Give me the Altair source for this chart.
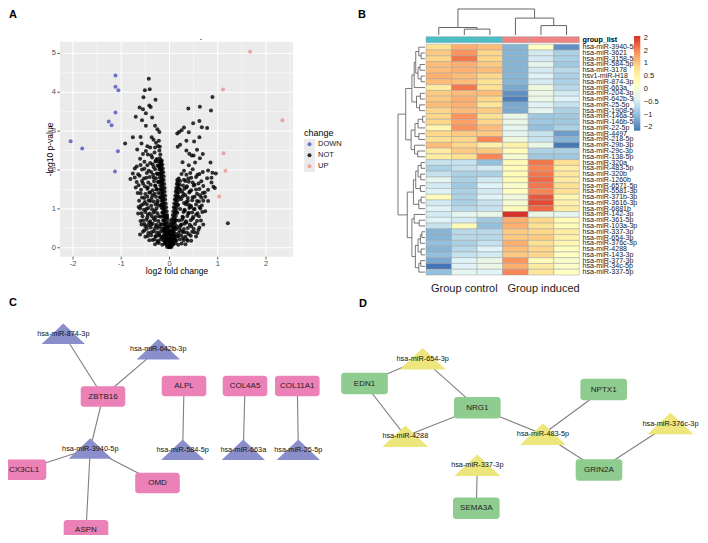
import altair as alt
import pandas as pd

FONT = "Liberation Sans"
M = 8  # page margin added by the browser; chart px = page px - M

# ---------------- Panel A : volcano ----------------
change_cats = ["DOWN", "NOT", "UP"]
change_colors = ["#6E73C9", "#000000", "#F2736E"]
down_lfc = [-2.05, -1.81, -1.12, -1.12, -1.06, -1.12, -1.26, -1.20, -1.07, -1.13]
down_p = [2.74, 2.55, 4.43, 4.14, 4.05, 3.48, 3.25, 3.15, 2.48, 1.96]
up_lfc = [1.11, 1.67, 2.34, 1.12, 1.16, 1.03]
up_p = [4.07, 5.04, 3.28, 2.43, 1.98, 1.32]
not_points = [
    (-0.43, 4.35), (-0.51, 4.05), (-0.41, 4.08), (-0.54, 3.87), (-0.29, 3.81), (-0.62, 3.61), (-0.42, 3.66),
    (-0.39, 3.62), (-0.55, 3.56), (-0.70, 3.37), (-0.49, 3.46), (-0.36, 3.35), (-0.57, 3.28), (-0.49, 3.14),
    (-0.30, 3.14), (-0.25, 3.05), (-0.21, 2.98), (-0.76, 2.84), (-0.92, 2.68), (-0.60, 2.85), (-0.37, 2.84),
    (-0.33, 2.78), (-0.58, 2.68), (-0.67, 2.53), (-0.49, 2.49), (-0.40, 2.58), (-0.28, 2.70), (-0.24, 2.62),
    (-0.45, 2.40), (-0.31, 2.45),
    (-0.72, 2.04), (-0.76, 1.91), (-0.60, 2.13), (-0.52, 2.03), (-0.81, 1.77), (-0.62, 1.85), (-0.48, 1.80),
    (-0.55, 1.65), (-0.70, 1.55), (-0.45, 1.55), (-0.38, 1.95), (-0.35, 2.15), (-0.28, 2.25), (-0.42, 1.42),
    (-0.60, 1.40), (-0.52, 1.28), (-0.64, 1.05), (-0.65, 0.88), (-0.55, 1.12), (-0.48, 1.00), (-0.40, 1.20),
    (-0.35, 1.35), (-0.30, 1.60), (-0.33, 1.80), (-0.25, 1.90), (-0.27, 1.50), (-0.22, 1.70), (-0.20, 2.05),
    (-0.18, 2.20), (-0.45, 0.85), (-0.55, 0.70), (-0.61, 0.34), (-0.50, 0.55), (-0.42, 0.65), (-0.38, 0.40),
    (-0.30, 0.95), (-0.25, 1.15), (-0.33, 0.75), (-0.28, 0.55), (-0.22, 0.35), (-0.18, 0.80), (-0.20, 1.30),
    (-0.17, 1.05), (-0.15, 0.60), (-0.35, 0.20), (-0.25, 0.15), (-0.15, 0.25), (-0.45, 0.30), (-0.12, 0.45),
    (-0.28, 0.30), (-0.20, 0.55), (-0.38, 0.60), (-0.58, 0.60), (-0.52, 0.45),
    (-0.02, 0.05), (-0.04, 0.10), (-0.01, 0.15), (-0.05, 0.20), (-0.03, 0.25), (-0.06, 0.30), (-0.04, 0.35),
    (-0.07, 0.40), (-0.05, 0.45), (-0.08, 0.50), (-0.06, 0.55), (-0.09, 0.60), (-0.07, 0.65), (-0.10, 0.70),
    (-0.08, 0.75), (-0.11, 0.80), (-0.09, 0.85), (-0.12, 0.90), (-0.10, 0.95), (-0.12, 1.00), (-0.11, 1.05),
    (-0.13, 1.10), (-0.12, 1.15), (-0.14, 1.20), (-0.13, 1.25), (-0.14, 1.30), (-0.13, 1.35), (-0.15, 1.40),
    (-0.14, 1.45), (-0.15, 1.50), (-0.14, 1.55), (-0.16, 1.60), (-0.15, 1.65), (-0.16, 1.70), (-0.15, 1.75),
    (-0.17, 1.80), (-0.16, 1.85), (-0.17, 1.90), (-0.16, 1.95), (-0.17, 2.00), (-0.18, 2.05), (-0.17, 2.10),
    (-0.18, 2.15), (-0.19, 2.20), (-0.18, 2.25), (-0.20, 2.30), (-0.19, 2.40), (-0.21, 2.50), (-0.20, 2.60),
    (-0.22, 2.75), (-0.07, 0.20), (-0.09, 0.35), (-0.11, 0.50), (-0.13, 0.70), (-0.15, 0.90), (-0.17, 1.10),
    (-0.18, 1.30), (-0.19, 1.50), (-0.20, 1.70), (-0.21, 1.90), (-0.22, 2.10),
    (0.02, 0.05), (0.03, 0.12), (0.05, 0.20), (0.04, 0.28), (0.06, 0.35), (0.07, 0.42), (0.08, 0.50),
    (0.07, 0.58), (0.09, 0.65), (0.10, 0.72), (0.09, 0.80), (0.11, 0.88), (0.12, 0.95), (0.11, 1.02),
    (0.13, 1.10), (0.14, 1.18), (0.13, 1.25), (0.15, 1.32), (0.16, 1.40), (0.15, 1.48), (0.17, 1.55),
    (0.18, 1.62), (0.17, 1.70), (0.19, 1.78), (0.10, 0.30), (0.12, 0.50), (0.14, 0.70), (0.16, 0.90),
    (0.18, 1.10), (0.20, 1.30), (0.22, 1.50),
    (0.00, 0.02), (-0.01, 0.08), (0.01, 0.10), (0.00, 0.18), (-0.02, 0.22), (0.02, 0.30), (0.00, 0.40),
    (-0.03, 0.50), (0.03, 0.60), (0.00, 0.03), (0.01, 0.05), (-0.03, 0.12),
    (0.39, 3.58), (0.63, 3.63), (0.89, 3.88), (0.86, 3.53), (0.62, 3.26), (0.49, 3.20), (0.67, 3.10),
    (0.78, 3.08), (0.30, 3.09), (0.25, 3.02), (0.16, 2.94), (0.20, 2.98), (0.40, 2.97), (0.62, 2.84),
    (0.51, 2.73), (0.35, 2.75), (0.17, 2.60), (0.22, 2.65), (0.46, 2.37), (0.50, 2.37), (0.69, 2.41),
    (0.35, 2.50), (0.57, 2.52), (0.27, 2.20), (0.63, 2.30), (0.85, 2.19), (0.69, 1.95), (0.89, 1.93),
    (0.96, 1.91), (0.62, 1.90), (0.35, 1.88), (0.87, 1.68), (0.91, 1.57), (0.94, 1.54), (0.60, 1.65),
    (0.73, 1.42), (0.63, 1.35), (0.80, 1.20), (0.57, 1.20), (0.74, 0.94), (1.21, 0.63), (0.60, 0.46),
    (0.87, 1.80), (0.74, 1.31),
    (0.25, 1.90), (0.30, 1.75), (0.28, 1.60), (0.35, 1.55), (0.40, 1.70), (0.45, 1.80), (0.50, 1.60),
    (0.42, 1.45), (0.33, 1.35), (0.26, 1.45), (0.24, 1.25), (0.30, 1.15), (0.38, 1.20), (0.45, 1.05),
    (0.52, 1.00), (0.55, 0.85), (0.48, 0.75), (0.40, 0.90), (0.32, 0.95), (0.27, 0.80), (0.22, 1.00),
    (0.20, 0.70), (0.25, 0.60), (0.35, 0.65), (0.45, 0.55), (0.52, 0.40), (0.40, 0.35), (0.30, 0.40),
    (0.22, 0.45), (0.18, 0.30), (0.15, 0.55), (0.28, 0.25), (0.38, 0.18), (0.12, 0.20), (0.65, 0.70),
    (0.70, 0.60), (0.62, 1.05), (0.48, 1.30), (0.55, 1.50), (0.40, 1.10),
]
not_points_arms = [
    (-0.06, 0.11), (0.02, 0.14), (-0.07, 0.21), (0.01, 0.24), (-0.08, 0.31), (0.00, 0.34), (-0.09, 0.41),
    (-0.01, 0.44), (-0.10, 0.51), (-0.02, 0.54), (-0.11, 0.61), (-0.03, 0.64), (-0.12, 0.71), (-0.04, 0.74),
    (-0.13, 0.81), (-0.05, 0.84), (-0.14, 0.91), (-0.06, 0.94), (-0.15, 1.01), (-0.07, 1.04), (-0.16, 1.11),
    (-0.08, 1.14), (-0.17, 1.21), (-0.09, 1.24), (-0.17, 1.31), (-0.09, 1.34), (-0.18, 1.41), (-0.10, 1.44),
    (-0.18, 1.51), (-0.10, 1.54), (-0.19, 1.61), (-0.11, 1.64), (-0.19, 1.71), (-0.12, 1.74), (-0.20, 1.81),
    (-0.12, 1.84), (-0.20, 1.91), (-0.13, 1.94), (-0.21, 2.01), (-0.14, 2.04), (-0.22, 2.11), (-0.15, 2.14),
    (-0.23, 2.21), (-0.16, 2.24),
    (0.00, 0.14), (0.06, 0.12), (0.01, 0.24), (0.07, 0.22), (0.02, 0.34), (0.08, 0.32), (0.03, 0.44),
    (0.09, 0.42), (0.04, 0.54), (0.10, 0.52), (0.05, 0.64), (0.11, 0.62), (0.06, 0.74), (0.12, 0.72),
    (0.07, 0.84), (0.13, 0.82), (0.08, 0.94), (0.14, 0.92), (0.09, 1.04), (0.15, 1.02), (0.10, 1.14),
    (0.16, 1.12), (0.11, 1.24), (0.17, 1.22), (0.12, 1.34), (0.18, 1.32), (0.13, 1.44), (0.19, 1.42),
    (0.14, 1.54), (0.20, 1.52), (0.15, 1.64), (0.21, 1.62), (0.16, 1.74), (0.22, 1.72),
    (-0.05, 0.02), (0.04, 0.02), (-0.06, 0.07), (0.06, 0.08), (-0.08, 0.12), (0.07, 0.15), (-0.10, 0.17),
    (0.09, 0.22), (-0.11, 0.25), (0.11, 0.26), (-0.12, 0.32), (0.12, 0.36), (-0.04, 0.38), (0.05, 0.45),
    (-0.13, 0.42), (0.14, 0.48), (-0.02, 0.55), (0.03, 0.70), (-0.05, 0.80), (0.00, 0.01), (0.02, 0.04),
    (-0.02, 0.03),
]
not_points_cloud = [
    (-0.30, 0.09), (-0.22, 0.12), (-0.15, 0.08), (-0.10, 0.11), (0.08, 0.09), (0.12, 0.12), (0.18, 0.08),
    (0.25, 0.11), (0.33, 0.09),
    (-0.42, 0.19), (-0.31, 0.22), (-0.24, 0.18), (-0.18, 0.21), (-0.12, 0.19), (0.14, 0.18), (0.21, 0.22),
    (0.29, 0.19), (0.36, 0.21), (0.45, 0.18),
    (-0.50, 0.28), (-0.38, 0.32), (-0.29, 0.29), (-0.21, 0.31), (-0.16, 0.28), (0.16, 0.29), (0.24, 0.32),
    (0.33, 0.28), (0.44, 0.31), (0.55, 0.29),
    (-0.55, 0.41), (-0.44, 0.38), (-0.33, 0.42), (-0.26, 0.39), (-0.19, 0.41), (0.19, 0.38), (0.27, 0.42),
    (0.36, 0.39), (0.47, 0.41), (0.58, 0.38),
    (-0.47, 0.49), (-0.39, 0.52), (-0.31, 0.48), (-0.24, 0.51), (-0.16, 0.49), (0.21, 0.52), (0.30, 0.48),
    (0.38, 0.51), (0.50, 0.49), (0.62, 0.52),
    (-0.52, 0.61), (-0.44, 0.58), (-0.35, 0.62), (-0.27, 0.59), (-0.19, 0.61), (0.23, 0.58), (0.31, 0.62),
    (0.42, 0.59), (0.53, 0.61),
    (-0.60, 0.69), (-0.48, 0.72), (-0.40, 0.68), (-0.30, 0.71), (-0.23, 0.69), (0.26, 0.72), (0.34, 0.68),
    (0.44, 0.71), (0.57, 0.69),
    (-0.56, 0.81), (-0.46, 0.78), (-0.37, 0.82), (-0.29, 0.79), (-0.22, 0.81), (0.28, 0.78), (0.37, 0.82),
    (0.49, 0.79), (0.61, 0.81),
    (-0.58, 0.89), (-0.50, 0.92), (-0.41, 0.88), (-0.33, 0.91), (-0.25, 0.89), (0.29, 0.92), (0.39, 0.88),
    (0.47, 0.91), (0.58, 0.89), (0.68, 0.92),
    (-0.61, 1.01), (-0.53, 0.98), (-0.44, 1.02), (-0.36, 0.99), (-0.27, 1.01), (0.31, 0.98), (0.41, 1.02),
    (0.51, 0.99), (0.64, 1.01),
    (-0.59, 1.09), (-0.47, 1.12), (-0.38, 1.08), (-0.29, 1.11), (-0.23, 1.09), (0.34, 1.12), (0.44, 1.08),
    (0.55, 1.11), (0.67, 1.09),
    (-0.63, 1.21), (-0.51, 1.18), (-0.43, 1.22), (-0.33, 1.19), (-0.25, 1.21), (0.35, 1.18), (0.47, 1.22),
    (0.61, 1.19), (0.70, 1.21),
    (-0.57, 1.29), (-0.46, 1.32), (-0.37, 1.28), (-0.28, 1.31), (0.27, 1.32), (0.38, 1.28), (0.52, 1.31),
    (0.66, 1.29),
    (-0.66, 1.41), (-0.50, 1.38), (-0.40, 1.42), (-0.31, 1.39), (-0.23, 1.41), (0.29, 1.38), (0.41, 1.42),
    (0.57, 1.39), (0.69, 1.41),
    (-0.59, 1.49), (-0.46, 1.52), (-0.35, 1.48), (-0.26, 1.51), (0.31, 1.52), (0.45, 1.48), (0.62, 1.51),
    (0.80, 1.49),
    (-0.64, 1.61), (-0.51, 1.58), (-0.39, 1.62), (-0.29, 1.59), (0.36, 1.58), (0.52, 1.62), (0.70, 1.59),
    (-0.68, 1.69), (-0.57, 1.72), (-0.44, 1.68), (-0.32, 1.71), (-0.24, 1.69), (0.33, 1.72), (0.48, 1.68),
    (0.66, 1.71),
    (-0.72, 1.81), (-0.53, 1.78), (-0.41, 1.82), (-0.28, 1.79), (0.39, 1.78), (0.55, 1.82), (0.78, 1.79),
    (-0.65, 1.89), (-0.47, 1.92), (-0.34, 1.88), (-0.26, 1.91), (0.43, 1.92), (0.58, 1.88),
    (-0.57, 2.01), (-0.43, 1.98), (-0.30, 2.02), (0.30, 1.98), (0.48, 2.02), (0.80, 1.99),
    (-0.68, 2.09), (-0.46, 2.12), (-0.33, 2.08), (-0.25, 2.11), (0.40, 2.12),
    (-0.52, 2.21), (-0.40, 2.18), (-0.29, 2.22), (0.53, 2.19),
    (-0.61, 2.29), (-0.36, 2.32), (-0.26, 2.28),
    (-0.55, 2.41), (-0.38, 2.38), (0.41, 2.42),
    (-0.46, 2.61), (-0.30, 2.58),
]
a_xlim = [-2.27, 2.56]
a_ylim = [-0.23, 5.30]
a_xticks = [-2, -1, 0, 1, 2]
a_xminor = [-1.5, -0.5, 0.5, 1.5, 2.5]
a_yticks = [0, 1, 2, 3, 4, 5]
a_yminor = [0.5, 1.5, 2.5, 3.5, 4.5]

# ---------------- Panel B : heatmap ----------------
mirna_rows = [
    "hsa-miR-3940-5p", "hsa-miR-3621", "hsa-miR-3158-5p", "hsa-miR-584-5p", "hsa-miR-3178",
    "hsv1-miR-H18", "hsa-miR-874-3p", "hsa-miR-663a", "hsa-miR-204-3p", "hsa-miR-642b-3p",
    "hsa-miR-25-5p", "hsa-miR-1908-5p", "hsa-miR-146a-5p", "hsa-miR-146b-5p", "hsa-miR-22-5p",
    "hsa-miR-4497", "hsa-miR-218-5p", "hsa-miR-29b-3p", "hsa-miR-29c-3p", "hsa-miR-138-5p",
    "hsa-miR-320a", "hsa-miR-483-5p", "hsa-miR-320b", "hsa-miR-1260b", "hsa-miR-6571-5p",
    "hsa-miR-5581-3p", "hsa-miR-371b-3p", "hsa-miR-3616-3p", "hsa-miR-6881b", "hsa-miR-142-3p",
    "hsa-miR-361-5p", "hsa-miR-103a-3p", "hsa-miR-337-3p", "hsa-miR-654-3p", "hsa-miR-376c-3p",
    "hsa-miR-4288", "hsa-miR-143-3p", "hsa-miR-377-3p", "hsa-miR-34c-5p", "hsa-miR-337-5p",
]
ctrl1 = [0.8, 1.0, 0.9, 1.1, 1.1, 1.2, 1.1, 0.6, 1.0, 1.0, 1.1, 0.9, 0.9, 0.9, 0.4, 0.9, 0.8, 1.1, 0.6, 0.6,
         -0.6, -0.8, -0.6, -0.3, -0.5, -0.4, 0.3, -0.5, -0.4, -0.5, -0.4, -0.6, -1.1, -1.1, -1.0, -1.1, -1.0, -1.2, -1.63, -1.0]
ctrl2 = [1.2, 1.4, 1.6, 1.2, 1.2, 1.1, 1.1, 1.6, 1.1, 1.2, 1.2, 1.1, 1.4, 1.3, 1.4, 1.0, 0.9, 0.9, 1.0, 0.8,
         -0.6, -0.6, -0.8, -0.8, -0.9, -0.8, -0.8, -0.8, -0.7, -0.3, -0.5, 0.3, -0.7, -0.7, -0.8, -0.7, -0.6, -0.4, -0.4, -0.3]
ctrl3 = [1.1, 0.9, 0.9, 1.0, 1.1, 0.9, 0.8, 0.8, 1.1, 0.9, 0.7, 1.0, 0.8, 0.9, 1.1, 1.0, 1.5, 0.5, 1.0, 1.5,
         -1.0, -0.5, -0.8, -0.5, -0.4, -0.5, -0.4, -0.6, -0.6, -0.2, -0.9, -1.0, -0.7, -0.7, -0.6, -0.4, -0.5, -0.2, -0.2, -0.4]
ind1 = [-1.1, -1.1, -1.1, -1.1, -1.1, -1.1, -1.1, -1.2, -1.4, -1.55, -1.2, -1.2, -0.2, -0.2, -0.3, -0.3, -0.1, 0.5, 0.3, 0.0,
        0.3, 0.3, 0.3, 0.3, 0.1, 0.2, -0.1, 0.0, 0.3, 2.07, 1.2, 1.2, 1.0, 1.0, 1.2, 1.1, 1.0, 1.4, 1.2, 1.5]
ind2 = [0.2, -0.5, -0.5, -0.3, -0.5, -0.4, -0.5, -0.1, -0.2, -0.2, -0.4, -0.3, -0.9, -0.9, -1.0, -0.6, -0.6, -0.2, -0.8, -0.9,
        1.6, 1.5, 1.6, 1.7, 1.6, 1.5, 1.8, 1.9, 1.7, -0.2, 0.9, 0.8, 0.9, 1.0, 0.8, 0.9, 0.9, 0.3, 0.6, 0.7]
ind3 = [-1.4, -0.8, -0.8, -0.9, -0.7, -0.8, -0.8, -0.7, -0.5, -0.4, -0.6, -0.8, -0.9, -0.9, -0.8, -1.3, -1.1, -1.6, -0.8, -0.9,
        0.8, 0.6, 0.7, 0.6, 0.8, 0.8, 0.4, 0.5, 0.6, -0.3, 0.3, 0.3, 0.6, 0.5, 0.4, 0.2, 0.2, 0.1, 0.1, 0.2]
sample_groups = ["control", "control", "control", "induced", "induced", "induced"]
group_names = ["Group control", "Group induced"]
heat_colors = ["#4575B4", "#91BFDB", "#E0F3F8", "#FFFFBF", "#FEE090", "#FC8D59", "#D73027"]
heat_range = [-1.63, 2.07]
legend_values = [-1.5, -1, -0.5, 0, 0.5, 1, 1.5, 2]
# linkage: (left, right, height); ids < n are leaves in display order
col_merges = [(1, 2, 2.26), (0, 6, 2.88), (4, 5, 3.62), (3, 8, 6.5), (7, 9, 10.0)]
row_merges = [
    (1, 2, 1.0), (5, 6, 1.0), (3, 4, 1.3), (0, 40, 1.6), (42, 41, 1.8), (43, 44, 2.4), (45, 7, 2.8),
    (8, 9, 1.2), (10, 11, 1.4), (47, 48, 2.2), (46, 49, 3.4), (12, 13, 0.6), (51, 14, 1.8), (15, 16, 1.6),
    (52, 53, 2.6), (18, 19, 1.9), (17, 55, 2.7), (54, 56, 3.6), (50, 57, 5.0),
    (20, 21, 1.0), (22, 23, 1.1), (59, 60, 1.8), (24, 25, 1.2), (61, 62, 2.4), (26, 27, 1.0), (64, 28, 1.6),
    (63, 65, 3.0), (30, 31, 1.5), (29, 67, 2.8), (32, 33, 0.8), (69, 34, 1.2), (35, 36, 1.0), (70, 71, 1.8),
    (37, 38, 1.1), (73, 39, 1.6), (72, 74, 2.5), (68, 75, 3.4), (66, 76, 4.6), (58, 77, 7.0),
]

# ---------------- Panels C and D : networks (layout positions, page px) ----------------
c_genes = ["ZBTB16", "CX3CL1", "OMD", "ASPN", "ALPL", "COL4A5", "COL11A1"]
c_gene_x = [103, 24, 157.5, 86, 184, 245, 297.3]
c_gene_y = [396.5, 469.7, 483, 530.3, 386, 386, 386]
c_mirs = ["hsa-miR-874-3p", "hsa-miR-642b-3p", "hsa-miR-3940-5p", "hsa-miR-584-5p", "hsa-miR-663a", "hsa-miR-25-5p"]
c_mir_x = [63.3, 158.3, 90.3, 182.7, 243.3, 298.3]
c_mir_y = [333.7, 349.2, 448.5, 449.7, 449.7, 449.7]
c_edges = [("hsa-miR-874-3p", "ZBTB16"), ("hsa-miR-642b-3p", "ZBTB16"), ("ZBTB16", "hsa-miR-3940-5p"),
           ("hsa-miR-3940-5p", "CX3CL1"), ("hsa-miR-3940-5p", "OMD"), ("hsa-miR-3940-5p", "ASPN"),
           ("ALPL", "hsa-miR-584-5p"), ("COL4A5", "hsa-miR-663a"), ("COL11A1", "hsa-miR-25-5p")]
d_genes = ["EDN1", "NRG1", "NPTX1", "GRIN2A", "SEMA3A"]
d_gene_x = [364.5, 477.3, 603.7, 599, 476.3]
d_gene_y = [383.5, 407.7, 389.5, 470, 508.3]
d_mirs = ["hsa-miR-654-3p", "hsa-miR-4288", "hsa-miR-483-5p", "hsa-miR-376c-3p", "hsa-miR-337-3p"]
d_mir_x = [422.7, 405.3, 543, 670.5, 477.3]
d_mir_y = [358.8, 436.2, 434.2, 423.5, 465.2]
d_edges = [("EDN1", "hsa-miR-654-3p"), ("EDN1", "hsa-miR-4288"), ("hsa-miR-654-3p", "NRG1"),
           ("NRG1", "hsa-miR-4288"), ("NRG1", "hsa-miR-483-5p"), ("NPTX1", "hsa-miR-483-5p"),
           ("hsa-miR-483-5p", "GRIN2A"), ("GRIN2A", "hsa-miR-376c-3p"), ("hsa-miR-337-3p", "SEMA3A")]


# ======================= helpers =======================
def sc(domain, rng, **kw):
    return alt.Scale(domain=domain, range=rng, nice=False, zero=False, **kw)


def qx(field, scale):
    return alt.X(field, type="quantitative", scale=scale, axis=None)


def qy(field, scale):
    return alt.Y(field, type="quantitative", scale=scale, axis=None)


def txt(text, x, y, size, bold=False, align="center", angle=0, color="#000000"):
    kw = dict(font=FONT, fontSize=size, align=align, baseline="middle", color=color,
              fontWeight="bold" if bold else "normal")
    if angle:
        kw["angle"] = angle
    return alt.Chart(pd.DataFrame({"t": [text]})).mark_text(**kw).encode(
        text="t:N", x=alt.value(x - M), y=alt.value(y - M))


layers = []

# ======================= Panel A =======================
AX = sc(a_xlim, [60 - M, 293 - M])
AY = sc(a_ylim, [256.7 - M, 41.7 - M])

bg = pd.DataFrame({"x0": [a_xlim[0]], "x1": [a_xlim[1]], "y0": [a_ylim[0]], "y1": [a_ylim[1]]})
layers.append(alt.Chart(bg).mark_rect(color="#EBEBEB").encode(
    x=qx("x0", AX), x2="x1", y=qy("y0", AY), y2="y1"))

vgrid = pd.DataFrame({"v": a_xticks + a_xminor, "w": [1.0] * len(a_xticks) + [0.5] * len(a_xminor),
                      "y0": a_ylim[0], "y1": a_ylim[1]})
layers.append(alt.Chart(vgrid).mark_rule(color="white").encode(
    x=qx("v", AX), y=qy("y0", AY), y2="y1", strokeWidth=alt.StrokeWidth("w:Q", scale=None)))
hgrid = pd.DataFrame({"v": a_yticks + a_yminor, "w": [1.0] * len(a_yticks) + [0.5] * len(a_yminor),
                      "x0": a_xlim[0], "x1": a_xlim[1]})
layers.append(alt.Chart(hgrid).mark_rule(color="white").encode(
    y=qy("v", AY), x=qx("x0", AX), x2="x1", strokeWidth=alt.StrokeWidth("w:Q", scale=None)))

all_not = not_points + not_points_arms + not_points_cloud
pts = pd.concat([
    pd.DataFrame({"lfc": [p[0] for p in all_not], "p": [p[1] for p in all_not], "change": "NOT"}),
    pd.DataFrame({"lfc": down_lfc, "p": down_p, "change": "DOWN"}),
    pd.DataFrame({"lfc": up_lfc, "p": up_p, "change": "UP"}),
], ignore_index=True)
layers.append(alt.Chart(pts).mark_circle(size=16, strokeWidth=0).encode(
    x=qx("lfc", AX), y=qy("p", AY),
    color=alt.Color("change:N", scale=alt.Scale(domain=change_cats, range=change_colors), legend=None),
    opacity=alt.Opacity("change:N", scale=alt.Scale(domain=change_cats, range=[1.0, 0.6, 1.0]), legend=None)))

xt = pd.DataFrame({"v": a_xticks, "lab": [str(v) for v in a_xticks]})
layers.append(alt.Chart(xt).mark_rule(color="#333333", strokeWidth=0.8).encode(
    x=qx("v", AX), y=alt.value(256.7 - M), y2=alt.value(259.5 - M)))
layers.append(alt.Chart(xt).mark_text(font=FONT, fontSize=7.5, color="#4D4D4D", baseline="middle").encode(
    x=qx("v", AX), y=alt.value(263.5 - M), text="lab:N"))
yt = pd.DataFrame({"v": a_yticks, "lab": [str(v) for v in a_yticks]})
layers.append(alt.Chart(yt).mark_rule(color="#333333", strokeWidth=0.8).encode(
    y=qy("v", AY), x=alt.value(57.3 - M), x2=alt.value(60 - M)))
layers.append(alt.Chart(yt).mark_text(font=FONT, fontSize=7.5, color="#4D4D4D", align="right",
                                      baseline="middle").encode(
    y=qy("v", AY), x=alt.value(56 - M), text="lab:N"))

layers.append(txt("log2 fold change", 177, 271, 8.5))
layers.append(txt("-log10 p-value", 49.5, 149.5, 8.5, angle=270))
layers.append(txt("-", 201, 38.5, 7))

# legend of panel A
leg = pd.DataFrame({"change": change_cats})
LY = alt.Scale(type="point", domain=change_cats, range=[144.3 - M, 166.3 - M], padding=0)
layers.append(alt.Chart(pd.DataFrame({"a": [0]})).mark_rect(color="#EBEBEB").encode(
    x=alt.value(304 - M), x2=alt.value(315 - M), y=alt.value(139 - M), y2=alt.value(172 - M)))
layers.append(alt.Chart(leg).mark_circle(size=16, strokeWidth=0).encode(
    x=alt.value(309.5 - M), y=alt.Y("change:N", scale=LY, axis=None),
    color=alt.Color("change:N", scale=alt.Scale(domain=change_cats, range=change_colors), legend=None),
    opacity=alt.Opacity("change:N", scale=alt.Scale(domain=change_cats, range=[1.0, 0.6, 1.0]), legend=None)))
layers.append(alt.Chart(leg).mark_text(font=FONT, fontSize=7.5, align="left", baseline="middle",
                                       color="#1A1A1A").encode(
    x=alt.value(318 - M), y=alt.Y("change:N", scale=LY, axis=None), text="change:N"))
layers.append(txt("change", 304, 132.5, 9, align="left"))

# ======================= Panel B =======================
HX = sc([0, 6], [426 - M, 579.3 - M])
HY = sc([0, 40], [44.3 - M, 275 - M])
cols = [ctrl1, ctrl2, ctrl3, ind1, ind2, ind3]
heat = pd.DataFrame([
    {"c0": j, "c1": j + 1, "r0": i, "r1": i + 1, "v": cols[j][i]}
    for j in range(6) for i in range(len(mirna_rows))
])
n_st = len(heat_colors)
stops = [heat_range[0] + k * (heat_range[1] - heat_range[0]) / (n_st - 1) for k in range(n_st)]
layers.append(alt.Chart(heat).mark_rect(stroke="#A3A3A3", strokeWidth=0.5).encode(
    x=qx("c0", HX), x2="c1", y=qy("r0", HY), y2="r1",
    color=alt.Color("v:Q", scale=alt.Scale(domain=stops, range=heat_colors, interpolate="rgb"),
                    legend=alt.Legend(orient="none", legendX=634 - M, legendY=36 - M, direction="vertical",
                                      gradientLength=94.7, gradientThickness=6.3, gradientStrokeWidth=0,
                                      title=None, values=legend_values, format="~g",
                                      labelFont=FONT, labelFontSize=7.5, labelColor="#222222",
                                      labelOffset=3.5, labelOverlap=False, padding=0))))

ann = pd.DataFrame({"c0": list(range(6)), "c1": list(range(1, 7)), "g": sample_groups})
layers.append(alt.Chart(ann).mark_rect(stroke="#A3A3A3", strokeWidth=0.5).encode(
    x=qx("c0", HX), x2="c1", y=alt.value(36.7 - M), y2=alt.value(42.7 - M),
    color=alt.Color("g:N", scale=alt.Scale(domain=["control", "induced"], range=["#48BEC6", "#F2827F"]),
                    legend=None)))


def dendro(n, merges):
    pos = {i: (i + 0.5, 0.0) for i in range(n)}
    segs = []
    for k, (a, b, h) in enumerate(merges):
        pa, ha = pos[a]
        pb, hb = pos[b]
        segs.append({"p1": pa, "p2": pa, "h1": ha, "h2": h})
        segs.append({"p1": pb, "p2": pb, "h1": hb, "h2": h})
        segs.append({"p1": pa, "p2": pb, "h1": h, "h2": h})
        pos[n + k] = ((pa + pb) / 2, h)
    return pd.DataFrame(segs)


cseg = dendro(6, col_merges)
CH = sc([0, max(m[2] for m in col_merges)], [35 - M, 9 - M])
layers.append(alt.Chart(cseg).mark_rule(color="#555555", strokeWidth=0.9).encode(
    x=qx("p1", HX), x2="p2", y=qy("h1", CH), y2="h2"))

rseg = dendro(len(mirna_rows), row_merges)
RH = sc([0, max(m[2] for m in row_merges)], [425 - M, 398 - M])
layers.append(alt.Chart(rseg).mark_rule(color="#555555", strokeWidth=0.8).encode(
    y=qy("p1", HY), y2="p2", x=qx("h1", RH), x2="h2"))

rl = pd.DataFrame({"r": [i + 0.5 for i in range(len(mirna_rows))], "name": mirna_rows})
layers.append(alt.Chart(rl).mark_text(font=FONT, fontSize=7.1, align="left", baseline="middle",
                                      color="#1A1A1A").encode(
    y=qy("r", HY), x=alt.value(582.5 - M), text="name:N"))
layers.append(txt("group_list", 582.5, 39.7, 7.2, bold=True, align="left"))

gl = pd.DataFrame({"c": [1.5, 4.6], "name": group_names})
layers.append(alt.Chart(gl).mark_text(font=FONT, fontSize=11, baseline="middle", color="#1A1A1A").encode(
    x=qx("c", HX), y=alt.value(289 - M), text="name:N"))

# ======================= Panels C & D =======================
NX = sc([M, 708], [0, 700])
NY = sc([M, 543], [0, 535])


def network(genes, gx, gy, mirs, mx, my, edges, gene_col, mir_col, hw, hh, tri_size):
    pos = {n: (x, y) for n, x, y in zip(genes + mirs, list(gx) + list(mx), list(gy) + list(my))}
    e = pd.DataFrame([{"x1": pos[a][0], "y1": pos[a][1], "x2": pos[b][0], "y2": pos[b][1]} for a, b in edges])
    g = pd.DataFrame({"name": genes, "x": gx, "y": gy})
    g["x0"] = g.x - hw
    g["x1"] = g.x + hw
    g["y0"] = g.y - hh
    g["y1"] = g.y + hh
    m = pd.DataFrame({"name": mirs, "x": mx, "y": my})
    return [
        alt.Chart(e).mark_rule(color="#808080", strokeWidth=1.1).encode(
            x=qx("x1", NX), y=qy("y1", NY), x2="x2", y2="y2"),
        alt.Chart(g).mark_rect(color=gene_col, cornerRadius=3).encode(
            x=qx("x0", NX), x2="x1", y=qy("y0", NY), y2="y1"),
        alt.Chart(m).mark_point(shape="M-1,0.47L1,0.47L0,-0.47Z", size=tri_size, filled=True,
                                color=mir_col, opacity=1, strokeWidth=0).encode(
            x=qx("x", NX), y=qy("y", NY)),
        alt.Chart(g).mark_text(font=FONT, fontSize=8, color="#222222", baseline="middle").encode(
            x=qx("x", NX), y=qy("y", NY), text="name:N"),
        alt.Chart(m).mark_text(font=FONT, fontSize=7.3, color="#111111", baseline="middle").encode(
            x=qx("x", NX), y=qy("y", NY), text="name:N"),
    ]


layers += network(c_genes, c_gene_x, c_gene_y, c_mirs, c_mir_x, c_mir_y, c_edges,
                  "#EC81B8", "#8A8FCB", 22.3, 10.3, 1875)
layers += network(d_genes, d_gene_x, d_gene_y, d_mirs, d_mir_x, d_mir_y, d_edges,
                  "#8FCC8F", "#ECE67D", 23.3, 10.7, 2116)

# panel letters
layers.append(txt("A", 9, 15, 11, bold=True, align="left"))
layers.append(txt("B", 358, 15, 11, bold=True, align="left"))
layers.append(txt("C", 9, 303, 11, bold=True, align="left"))
layers.append(txt("D", 359, 304, 11, bold=True, align="left"))

chart = alt.layer(*layers).resolve_scale(
    x="independent", y="independent", color="independent", opacity="independent", strokeWidth="independent"
).properties(
    width=692, height=527, padding=0, autosize=alt.AutoSizeParams(type="none"), background="white"
).configure_view(strokeWidth=0)

chart.save("out.html", embed_options={"renderer": "svg", "actions": False})
